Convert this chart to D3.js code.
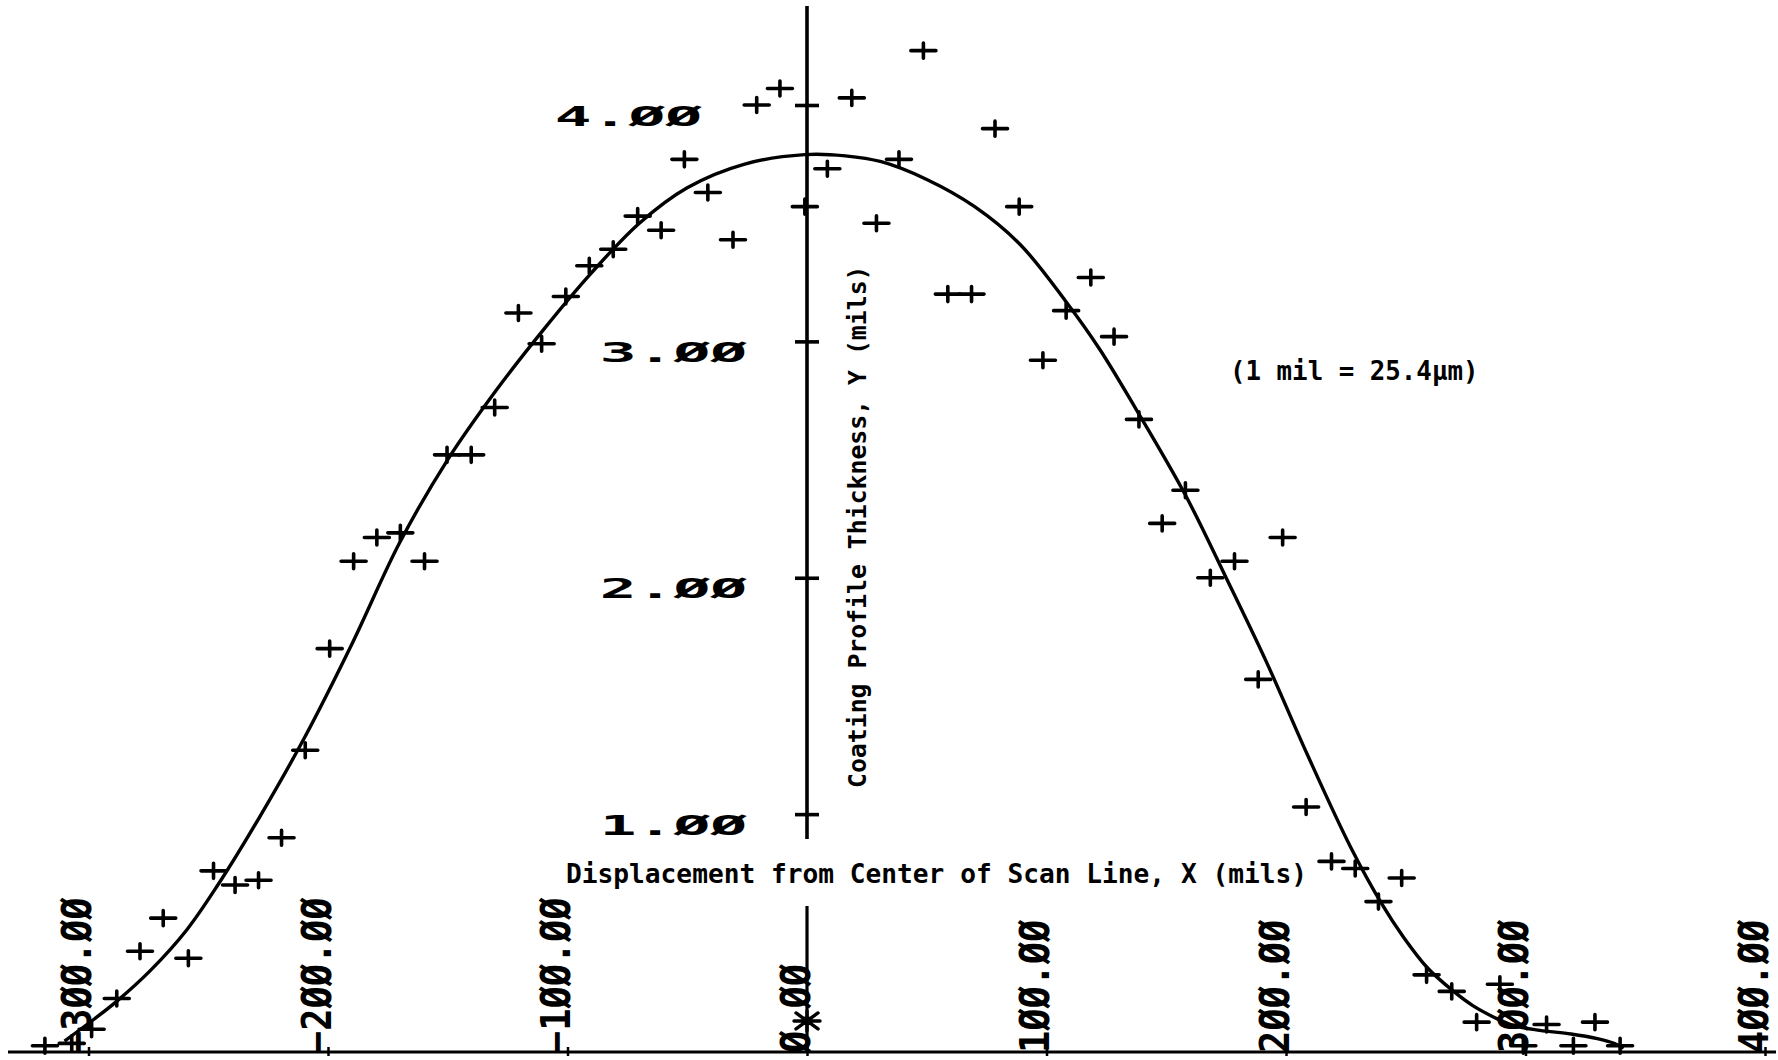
<!DOCTYPE html>
<html>
<head>
<meta charset="utf-8">
<script src="https://cdn.jsdelivr.net/npm/d3@7"></script>
<style>
  html, body { margin: 0; padding: 0; background: #fff; }
  svg { display: block; }
  text { font-family: "DejaVu Sans Mono", "Liberation Mono", monospace; fill: #000; }
</style>
</head>
<body>
<svg id="chart" width="1778" height="1060"></svg>
<script>
// Tick values for both axes
const xTickValues = [-300, -200, -100, 0, 100, 200, 300, 400];
const yTickValues = [1, 2, 3, 4];

// Measured coating thickness (mils) at each scan displacement (mils)
const measuredX = [-318.2, -307, -298.7, -288.2, -278.5, -268.8, -258.3, -247.8, -238.8, -229,
  -219.4, -209.5, -199.3, -189.3, -179.6, -169.8, -159.7, -150.3, -140.2, -130.4,
  -120.5, -110.8, -100.7, -90.9, -80.9, -70.7, -60.9, -51.2, -41.4, -30.9,
  -21, -11.3, -0.9, 8.5, 18.7, 29, 38.4, 48.6, 58.8, 68.7,
  78.5, 88.6, 98.5, 108.2, 118.5, 128.2, 138.6, 148.3, 158, 168.4,
  178.5, 188.4, 198.6, 208.4, 219, 228.9, 238.6, 248.3, 258.7, 269.2,
  279.6, 289.3, 299.1, 308.8, 320, 329, 339.5];
const measuredY = [0.02, 0.03, 0.09, 0.22, 0.42, 0.56, 0.39, 0.76, 0.70, 0.72,
  0.90, 1.27, 1.70, 2.07, 2.17, 2.19, 2.07, 2.52, 2.52, 2.72,
  3.12, 2.99, 3.19, 3.32, 3.39, 3.53, 3.47, 3.77, 3.63, 3.43,
  4.00, 4.07, 3.57, 3.73, 4.03, 3.50, 3.77, 4.23, 3.20, 3.20,
  3.90, 3.57, 2.92, 3.13, 3.27, 3.02, 2.67, 2.23, 2.37, 2.00,
  2.07, 1.57, 2.17, 1.03, 0.80, 0.77, 0.63, 0.73, 0.32, 0.25,
  0.12, 0.28, 0.02, 0.11, 0.02, 0.12, 0.02];

// Fitted profile curve
const fitX = [-310, -298, -288, -274, -259, -246, -229, -210, -190, -170,
  -150, -130, -110, -90, -70, -50, -26, -1, 16, 31,
  50, 70, 89, 108, 122, 137, 158, 175, 192, 209,
  227, 240, 249, 259, 270, 278, 287, 295, 306, 319,
  330, 337, 341];
const fitY = [0.04, 0.13, 0.21, 0.34, 0.51, 0.70, 0.98, 1.32, 1.72, 2.15,
  2.50, 2.79, 3.05, 3.29, 3.50, 3.65, 3.75, 3.79, 3.785, 3.76,
  3.685, 3.57, 3.41, 3.17, 2.97, 2.72, 2.35, 2.00, 1.64, 1.25,
  0.86, 0.62, 0.48, 0.35, 0.25, 0.19, 0.14, 0.105, 0.085, 0.07,
  0.05, 0.03, 0.01];

// Origin marker of the scan
const originX = [0];
const originY = [0.125];

const xTitle = "Displacement from Center of Scan Line, X (mils)";
const yTitle = "Coating Profile Thickness, Y (mils)";
const unitNote = "(1 mil = 25.4\u00b5m)";

// ---------------------------------------------------------------
const W = 1778, H = 1060;
const svg = d3.select("#chart");
svg.append("rect").attr("width", W).attr("height", H).attr("fill", "#fff");

const x = d3.scaleLinear().domain([-300, 400]).range([88.5, 1765]);
const y = d3.scaleLinear().domain([0, 4]).range([1050.5, 105]);

const ink = "#000";
const axisY = 1052;
const x0 = x(0);

// plotter-style numerals: slashed zeros
const fmt = v => d3.format(".2f")(v).replace(/0/g, "\u00d8");

// --- horizontal axis
svg.append("line")
  .attr("x1", 8).attr("x2", W - 2)
  .attr("y1", axisY).attr("y2", axisY)
  .attr("stroke", ink).attr("stroke-width", 3.2);

const gx = svg.append("g")
  .attr("transform", `translate(0,${axisY})`)
  .call(d3.axisBottom(x).tickValues(xTickValues).tickSize(0).tickFormat(fmt));
gx.select(".domain").remove();
gx.attr("font-family", null).attr("font-size", null);
gx.selectAll(".tick line")
  .attr("y1", -5).attr("y2", 4)
  .attr("stroke", ink).attr("stroke-width", 2.5);
gx.selectAll(".tick text")
  .attr("y", null).attr("dy", null)
  .attr("text-anchor", "start")
  .attr("transform", "translate(2,1) rotate(-90) scale(0.9,1)")
  .style("font-size", "41px")
  .style("font-weight", "bold")
  .attr("fill", ink);

// --- vertical axis, broken around the horizontal axis title
const yTop = 6, breakTop = 839, breakBottom = 906;
svg.append("line")
  .attr("x1", x0).attr("x2", x0)
  .attr("y1", yTop).attr("y2", breakTop)
  .attr("stroke", ink).attr("stroke-width", 3.6);
svg.append("line")
  .attr("x1", x0).attr("x2", x0)
  .attr("y1", breakBottom).attr("y2", axisY)
  .attr("stroke", ink).attr("stroke-width", 3.2);

const topTick = d3.max(yTickValues);
const gy = svg.append("g")
  .attr("transform", `translate(${x0},0)`)
  .call(d3.axisLeft(y).tickValues(yTickValues).tickSize(0).tickFormat(fmt));
gy.select(".domain").remove();
gy.attr("font-family", null).attr("font-size", null);
gy.selectAll(".tick line")
  .attr("x1", -12).attr("x2", 12)
  .attr("stroke", ink).attr("stroke-width", 3.6);
gy.selectAll(".tick text")
  .attr("x", null).attr("dy", null)
  .attr("text-anchor", "end")
  .attr("transform", d => `translate(${(d === topTick ? -105 : -60)},20) scale(2.23,1)`)
  .style("font-size", "27.4px")
  .style("font-weight", "bold")
  .attr("fill", ink);

// --- fitted curve
const fit = fitX.map((v, i) => ({ x: v, y: fitY[i] }));
svg.append("path")
  .datum(fit)
  .attr("fill", "none")
  .attr("stroke", ink)
  .attr("stroke-width", 3.4)
  .attr("stroke-linejoin", "round")
  .attr("d", d3.line().x(d => x(d.x)).y(d => y(d.y)).curve(d3.curveCatmullRom.alpha(0.5)));

// --- measured points as plus marks
const pts = measuredX.map((v, i) => ({ x: v, y: measuredY[i] }));
svg.append("g")
  .attr("stroke", ink)
  .attr("stroke-width", 3.6)
  .attr("stroke-linecap", "round")
  .attr("fill", "none")
  .selectAll("path")
  .data(pts)
  .join("path")
  .attr("d", d => {
    const cx = x(d.x), cy = y(d.y);
    return `M${cx - 12.5},${cy}H${cx + 12.5}M${cx},${cy - 7.5}V${cy + 7.5}`;
  });

// --- origin asterisk
const origin = originX.map((v, i) => ({ x: v, y: originY[i] }));
svg.append("g")
  .attr("stroke", ink)
  .attr("stroke-width", 3.4)
  .attr("stroke-linecap", "round")
  .attr("fill", "none")
  .selectAll("path")
  .data(origin)
  .join("path")
  .attr("d", d => {
    const cx = x(d.x), cy = y(d.y);
    return `M${cx - 13},${cy}H${cx + 13}` +
           `M${cx - 11},${cy - 8}L${cx + 11},${cy + 8}` +
           `M${cx - 11},${cy + 8}L${cx + 11},${cy - 8}` +
           `M${cx},${cy - 10}V${cy + 10}`;
  });

// --- titles and note
svg.append("text")
  .attr("x", 566).attr("y", 883)
  .style("font-size", "26.2px").style("font-weight", "bold")
  .text(xTitle);

svg.append("text")
  .attr("transform", "translate(866,788) rotate(-90)")
  .style("font-size", "24.8px").style("font-weight", "bold")
  .text(yTitle);

svg.append("text")
  .attr("x", 1230).attr("y", 380)
  .style("font-size", "25.8px").style("font-weight", "bold")
  .text(unitNote);
</script>
</body>
</html>
